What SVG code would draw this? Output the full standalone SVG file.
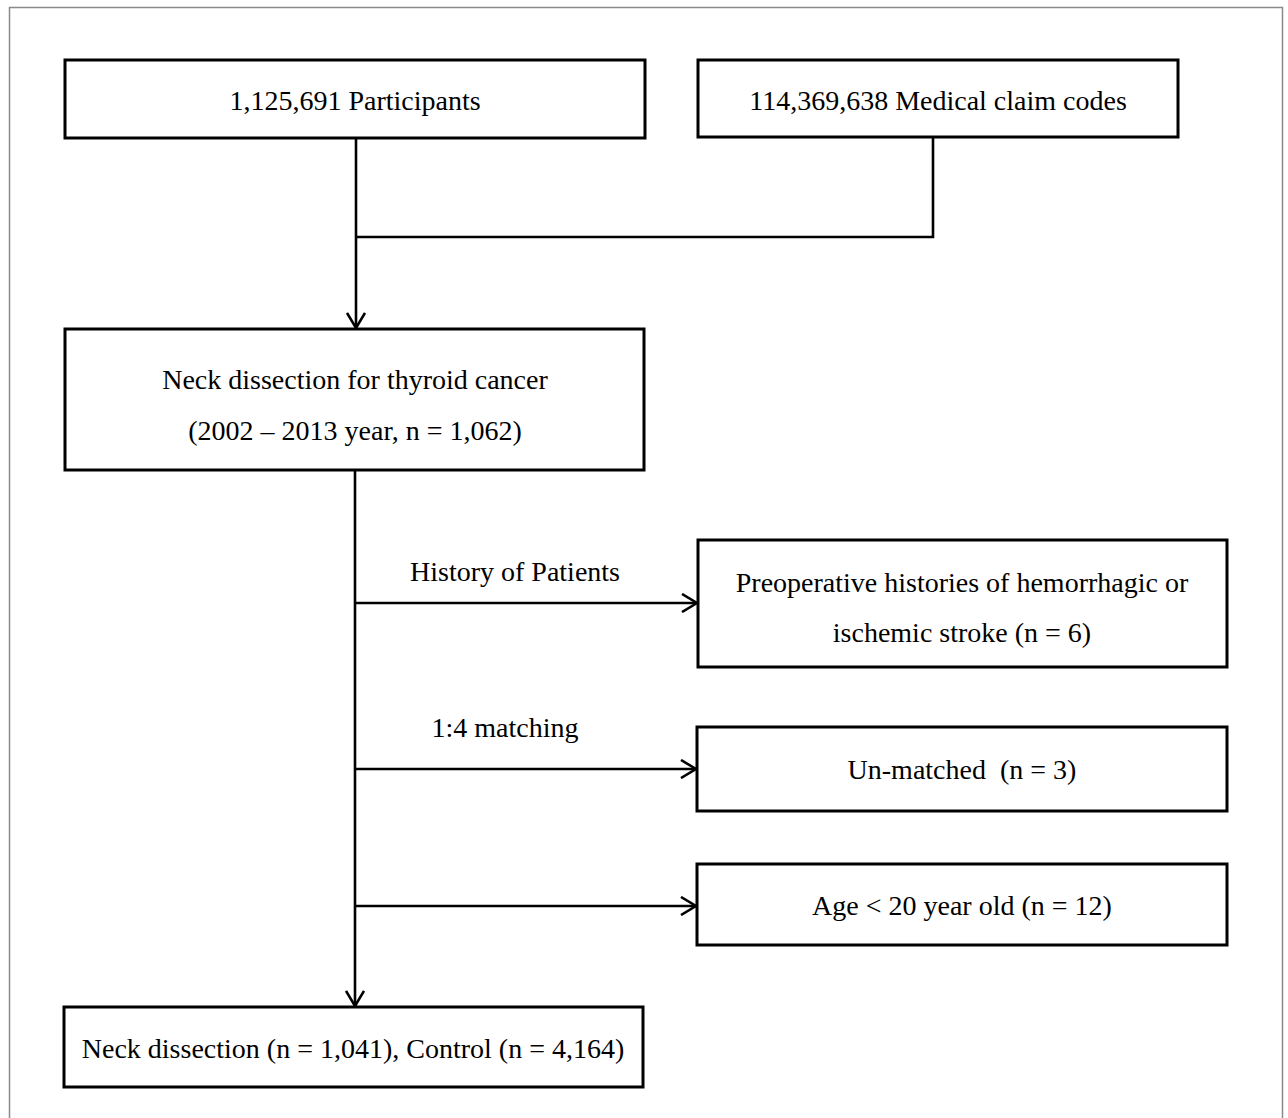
<svg xmlns="http://www.w3.org/2000/svg" width="1288" height="1118" viewBox="0 0 1288 1118">
<style>
.box{fill:#fff;stroke:#000;stroke-width:3}
.t{font-family:"Liberation Serif","Times New Roman",serif;font-size:28px;fill:#000;text-anchor:middle}
.c{fill:none;stroke:#000;stroke-width:2.6}
</style>
<defs>
<marker id="ah" markerUnits="userSpaceOnUse" viewBox="0 0 18 20" markerWidth="18" markerHeight="20" refX="16" refY="10" orient="auto">
<path d="M1,1 L16,10 L1,19" fill="none" stroke="#000" stroke-width="2.6"/>
</marker>
</defs>
<rect x="0" y="0" width="1288" height="1118" fill="#fff"/>
<rect x="9.5" y="7.5" width="1273" height="1120" fill="none" stroke="#8a8a8a" stroke-width="1.5"/>
<g id="connectors">
<path class="c" d="M356,139 V328" marker-end="url(#ah)"/>
<path class="c" d="M933,138 V237 H356"/>
<path class="c" d="M355,470 V1006" marker-end="url(#ah)"/>
<path class="c" d="M356,603 H697" marker-end="url(#ah)"/>
<path class="c" d="M356,769 H696" marker-end="url(#ah)"/>
<path class="c" d="M356,906 H696" marker-end="url(#ah)"/>
<text class="t" x="515" y="581">History of Patients</text>
<text class="t" x="505" y="737">1:4 matching</text>
</g>
<g id="participants">
<rect class="box" x="65" y="60" width="580" height="78"/>
<text class="t" x="355" y="110">1,125,691 Participants</text>
</g>
<g id="claims">
<rect class="box" x="698" y="60" width="480" height="77"/>
<text class="t" x="938" y="110">114,369,638 Medical claim codes</text>
</g>
<g id="neck">
<rect class="box" x="65" y="329" width="579" height="141"/>
<text class="t" x="355" y="389">Neck dissection for thyroid cancer</text>
<text class="t" x="355" y="440">(2002 – 2013 year, n = 1,062)</text>
</g>
<g id="stroke">
<rect class="box" x="698" y="540" width="529" height="127"/>
<text class="t" x="962" y="592">Preoperative histories of hemorrhagic or</text>
<text class="t" x="962" y="642">ischemic stroke (n = 6)</text>
</g>
<g id="unmatched">
<rect class="box" x="697" y="727" width="530" height="84"/>
<text class="t" x="962" y="779" xml:space="preserve">Un-matched  (n = 3)</text>
</g>
<g id="age">
<rect class="box" x="697" y="864" width="530" height="81"/>
<text class="t" x="962" y="915">Age &lt; 20 year old (n = 12)</text>
</g>
<g id="final">
<rect class="box" x="64" y="1007" width="579" height="80"/>
<text class="t" x="353" y="1058">Neck dissection (n = 1,041), Control (n = 4,164)</text>
</g>
</svg>
